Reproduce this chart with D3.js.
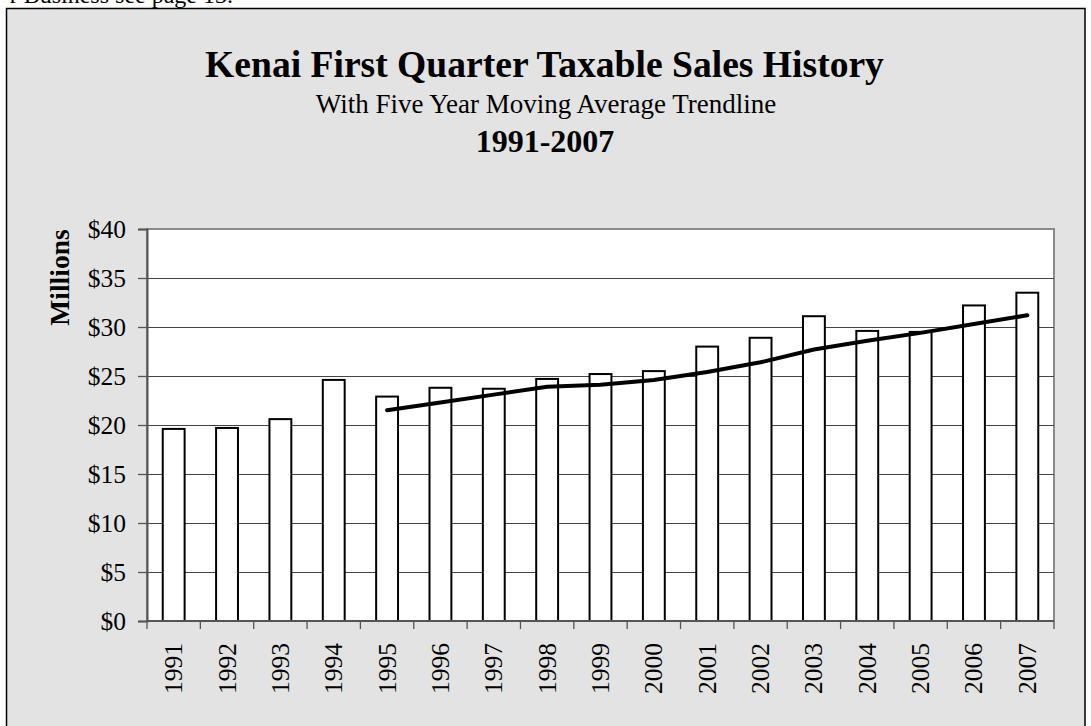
<!DOCTYPE html>
<html><head><meta charset="utf-8">
<script src="https://cdn.jsdelivr.net/npm/d3@7"></script>
<style>html,body{margin:0;padding:0;background:#fff;overflow:hidden}</style>
</head><body>
<svg id="chart" width="1091" height="726"></svg>
<script>
const years = ["1991","1992","1993","1994","1995","1996","1997","1998","1999","2000","2001","2002","2003","2004","2005","2006","2007"];
const sales = [19.6,19.7,20.6,24.6,22.9,23.8,23.7,24.7,25.2,25.5,28.0,28.9,31.1,29.6,29.5,32.2,33.5];
const trendYears = ["1995","1996","1997","1998","1999","2000","2001","2002","2003","2004","2005","2006","2007"];
const trendValues = [21.5,22.3,23.1,23.9,24.1,24.6,25.4,26.4,27.7,28.6,29.4,30.3,31.2];
const yTicks = [0,5,10,15,20,25,30,35,40];
const titleText = "Kenai First Quarter Taxable Sales History";
const subtitleText = "With Five Year Moving Average Trendline";
const yearsText = "1991-2007";
const yLabel = "Millions";
const topNote = "r Business see page 13.";

(function(){
const svg = d3.select("#chart");
const serif = "'Liberation Serif','Times New Roman',Times,serif";

svg.append("text").attr("x",233).attr("y",3).attr("text-anchor","end")
  .attr("font-family",serif).attr("font-size",24).attr("fill","#000").text(topNote);

svg.append("rect").attr("x",6.5).attr("y",8.5).attr("width",1078.5).attr("height",740)
  .attr("fill","#e3e3e3").attr("stroke","#000").attr("stroke-width",1.5);

svg.append("text").attr("x",544.5).attr("y",77).attr("text-anchor","middle")
  .attr("font-family",serif).attr("font-weight","bold").attr("font-size",37.6).text(titleText);
svg.append("text").attr("x",546).attr("y",113).attr("text-anchor","middle")
  .attr("font-family",serif).attr("font-size",27).text(subtitleText);
svg.append("text").attr("x",545).attr("y",152).attr("text-anchor","middle")
  .attr("font-family",serif).attr("font-weight","bold").attr("font-size",32).text(yearsText);

const pL=147, pR=1054, pT=229, pB=621;
const x = d3.scaleBand().domain(years).range([pL,pR]).padding(0);
const y = d3.scaleLinear().domain([0,40]).range([pB,pT]);

svg.append("rect").attr("x",pL).attr("y",pT).attr("width",pR-pL).attr("height",pB-pT)
  .attr("fill","#fff").attr("stroke","#8a8a8a").attr("stroke-width",2);

svg.append("g").selectAll("line").data(yTicks.filter(d=>d>0 && d<40)).join("line")
  .attr("x1",pL).attr("x2",pR).attr("y1",d=>Math.round(y(d))+0.5).attr("y2",d=>Math.round(y(d))+0.5)
  .attr("stroke","#444").attr("stroke-width",1);

const yAxis = d3.axisLeft(y).tickValues(yTicks).tickSize(9).tickPadding(12).tickFormat(d=>"$"+d);
const gy = svg.append("g").attr("transform",`translate(${pL},0)`).call(yAxis);
gy.select(".domain").attr("stroke","#555").attr("stroke-width",2);
gy.selectAll(".tick line").attr("stroke","#555").attr("stroke-width",1.3);
gy.selectAll(".tick text").attr("font-family",serif).attr("font-size",25.5).attr("fill","#000");

const bw = x.bandwidth()*0.41;
svg.append("g").selectAll("rect").data(years).join("rect")
  .attr("x",(d)=>x(d)+x.bandwidth()/2-bw/2)
  .attr("y",(d,i)=>y(sales[i]))
  .attr("width",bw)
  .attr("height",(d,i)=>pB-y(sales[i]))
  .attr("fill","#fff").attr("stroke","#000").attr("stroke-width",2);

const xAxis = d3.axisBottom(x).tickSize(0).tickPadding(0);
const gx = svg.append("g").attr("transform",`translate(0,${pB})`).call(xAxis);
gx.select(".domain").remove();
svg.append("line").attr("x1",pL).attr("x2",pR).attr("y1",pB).attr("y2",pB)
  .attr("stroke","#555").attr("stroke-width",2);
const bounds = years.map(d=>x(d)).concat([pR]);
svg.append("g").selectAll("line").data(bounds).join("line")
  .attr("x1",d=>d).attr("x2",d=>d).attr("y1",pB).attr("y2",pB+8)
  .attr("stroke","#555").attr("stroke-width",1.3);
gx.selectAll(".tick text")
  .attr("font-family",serif).attr("font-size",25.5).attr("fill","#000")
  .attr("text-anchor","end").attr("dy",null).attr("dominant-baseline","central")
  .attr("transform","translate(0,22) rotate(-90)")
  .attr("x",0).attr("y",0);

const line = d3.line().x((d,i)=>x(trendYears[i])+x.bandwidth()/2).y(d=>y(d));
svg.append("path").datum(trendValues).attr("d",line)
  .attr("fill","none").attr("stroke","#000").attr("stroke-width",4)
  .attr("stroke-linecap","round").attr("stroke-linejoin","round");

svg.append("text").attr("transform","translate(59,277.5) rotate(-90)")
  .attr("text-anchor","middle").attr("dominant-baseline","central")
  .attr("font-family",serif).attr("font-weight","bold").attr("font-size",27.5).text(yLabel);
})();
</script>
</body></html>
